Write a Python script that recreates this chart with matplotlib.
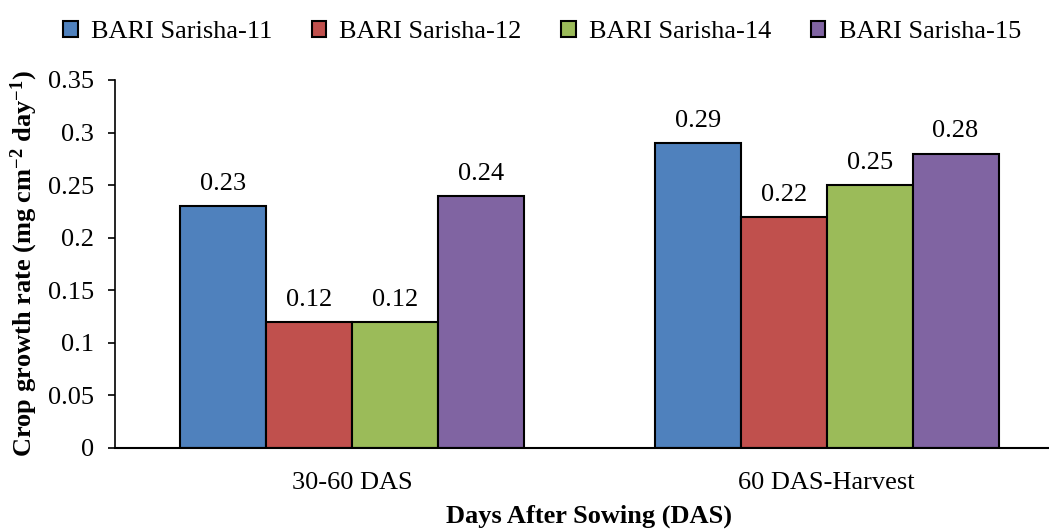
import matplotlib.pyplot as plt
import numpy as np

# data
stages = ["30-60 DAS", "60 DAS-Harvest"]
varieties = ["BARI Sarisha-11", "BARI Sarisha-12", "BARI Sarisha-14", "BARI Sarisha-15"]
cgr = {
    "BARI Sarisha-11": [0.23, 0.29],
    "BARI Sarisha-12": [0.12, 0.22],
    "BARI Sarisha-14": [0.12, 0.25],
    "BARI Sarisha-15": [0.24, 0.28],
}
colors = ["#4F81BD", "#C0504D", "#9BBB59", "#8064A2"]

plt.rcParams["font.family"] = ["Liberation Serif", "DejaVu Serif"]
plt.rcParams["mathtext.fontset"] = "custom"
plt.rcParams["mathtext.rm"] = "Liberation Serif:bold"
plt.rcParams["mathtext.it"] = "Liberation Serif:bold"
plt.rcParams["mathtext.bf"] = "Liberation Serif:bold"

FS = 19

fig = plt.figure(figsize=(10.49, 5.31), dpi=100)
ax = fig.add_axes([115 / 1049, 83 / 531, 949 / 1049, 368 / 531])

x = np.arange(len(stages))
width = 0.181
for i, (name, col) in enumerate(zip(varieties, colors)):
    pos = x + (i - 1.5) * width
    bars = ax.bar(pos, cgr[name], width, color=col, edgecolor="black", linewidth=1.5, label=name)
    for b, v in zip(bars, cgr[name]):
        ax.annotate(f"{v:g}", (b.get_x() + b.get_width() / 2, v), xytext=(0, 8),
                    textcoords="offset points", ha="center", va="bottom", fontsize=FS)

ax.set_xlim(-0.5, 1.5)
ax.set_ylim(0, 0.35)
ax.set_yticks(np.arange(0, 0.351, 0.05))
ax.set_yticklabels(["0", "0.05", "0.1", "0.15", "0.2", "0.25", "0.3", "0.35"])
ax.set_xticks(x)
ax.set_xticklabels(stages)
ax.tick_params(axis="y", labelsize=FS, length=5, width=1.2, direction="out", pad=10)
ax.tick_params(axis="x", labelsize=FS, length=0, pad=17)

for s in ["top", "right"]:
    ax.spines[s].set_visible(False)
ax.spines["left"].set_linewidth(1.2)
ax.spines["bottom"].set_linewidth(1.5)

ax.set_ylabel("Crop growth rate (mg cm$^{-2}$ day$^{-1}$)", fontsize=FS, fontweight="bold", labelpad=6)
ax.set_xlabel("Days After Sowing (DAS)", fontsize=FS, fontweight="bold", labelpad=8)

ax.legend(loc="upper center", bbox_to_anchor=((542 - 115) / 949, 1.225), ncol=4,
          frameon=False, fontsize=FS, handlelength=0.55, handleheight=0.55,
          handletextpad=0.5, columnspacing=1.5)

plt.savefig("out.png", dpi=100)
